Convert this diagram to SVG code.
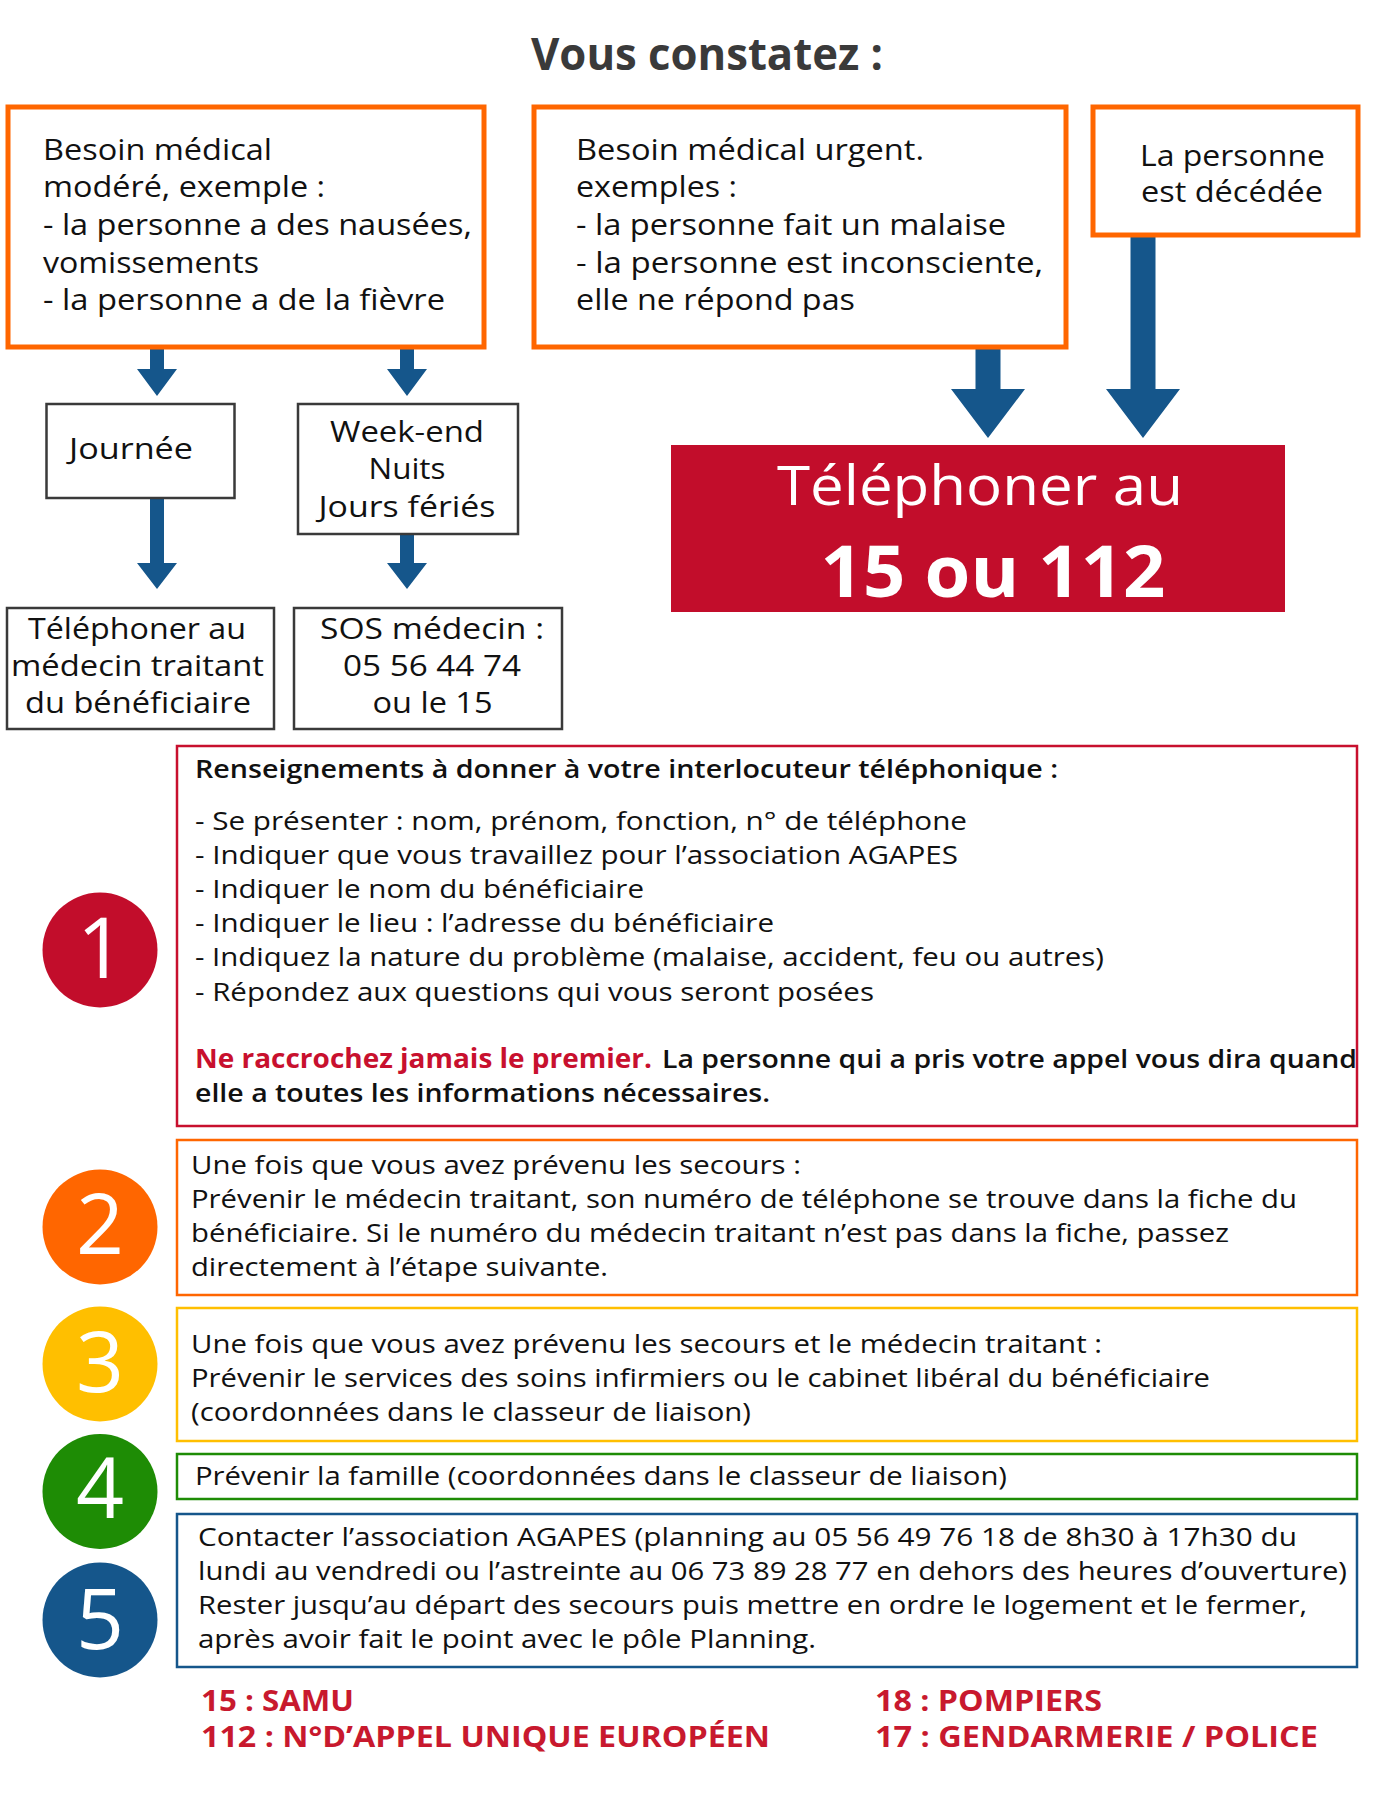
<svg xmlns="http://www.w3.org/2000/svg" width="1377" height="1802" viewBox="0 0 1377 1802">
<style>
text{font-family:"Open Sans","Noto Sans","Liberation Sans",sans-serif;fill:#111}
.t{font-size:29px}
.b{font-size:26px}
.ttl{font-size:44px;font-weight:700;fill:#3a3a3a}
.obox{fill:#fff;stroke:#FF6600;stroke-width:5}
.gbox{fill:#fff;stroke:#3a3a3a;stroke-width:2.5}
.sbox{fill:none;stroke-width:2.5}
.arr{fill:#15568B}
.num{font-size:84px;fill:#fff;text-anchor:middle}
.foot{font-size:29px;font-weight:700;fill:#C8192E}
.c{text-anchor:middle}
.w{fill:#fff}
</style>
<rect width="1377" height="1802" fill="#fff"/>
<text class="ttl" x="531" y="70" textLength="352" lengthAdjust="spacingAndGlyphs">Vous constatez :</text>

<g id="connectors">
  <path class="arr" d="M150 349H164V369H177L157 396L137 369H150Z"/>
  <path class="arr" d="M400 349H414V369H427L407 396L387 369H400Z"/>
  <path class="arr" d="M150 498H164V563H177L157 589L137 563H150Z"/>
  <path class="arr" d="M400 534H414V563H427L407 589L387 563H400Z"/>
  <path class="arr" d="M975.5 349H1000.5V389H1025L988 438L951 389H975.5Z"/>
  <path class="arr" d="M1130.5 237H1155.5V389H1180L1143 438L1106 389H1130.5Z"/>
</g>

<g id="box-modere">
  <rect class="obox" x="8" y="107" width="476" height="240"/>
  <text class="t" x="43" y="160" textLength="229" lengthAdjust="spacingAndGlyphs">Besoin médical</text>
  <text class="t" x="43" y="197" textLength="282" lengthAdjust="spacingAndGlyphs">modéré, exemple :</text>
  <text class="t" x="43" y="235" textLength="429" lengthAdjust="spacingAndGlyphs">- la personne a des nausées,</text>
  <text class="t" x="43" y="273" textLength="216" lengthAdjust="spacingAndGlyphs">vomissements</text>
  <text class="t" x="43" y="310" textLength="402" lengthAdjust="spacingAndGlyphs">- la personne a de la fièvre</text>
</g>

<g id="box-urgent">
  <rect class="obox" x="534" y="107" width="532" height="240"/>
  <text class="t" x="576" y="160" textLength="348" lengthAdjust="spacingAndGlyphs">Besoin médical urgent.</text>
  <text class="t" x="576" y="197" textLength="161" lengthAdjust="spacingAndGlyphs">exemples :</text>
  <text class="t" x="576" y="235" textLength="430" lengthAdjust="spacingAndGlyphs">- la personne fait un malaise</text>
  <text class="t" x="576" y="273" textLength="467" lengthAdjust="spacingAndGlyphs">- la personne est inconsciente,</text>
  <text class="t" x="576" y="310" textLength="279" lengthAdjust="spacingAndGlyphs">elle ne répond pas</text>
</g>

<g id="box-decede">
  <rect class="obox" x="1093" y="107" width="265" height="128"/>
  <text class="t" x="1140" y="166" textLength="185" lengthAdjust="spacingAndGlyphs">La personne</text>
  <text class="t" x="1141" y="202" textLength="182" lengthAdjust="spacingAndGlyphs">est décédée</text>
</g>

<g id="box-journee">
  <rect class="gbox" x="46.5" y="404" width="188" height="94"/>
  <text class="t" x="69" y="459" textLength="124" lengthAdjust="spacingAndGlyphs">Journée</text>
</g>

<g id="box-weekend">
  <rect class="gbox" x="298" y="404" width="220" height="130"/>
  <text class="t c" x="407" y="442" textLength="154" lengthAdjust="spacingAndGlyphs">Week-end</text>
  <text class="t c" x="407" y="479" textLength="77" lengthAdjust="spacingAndGlyphs">Nuits</text>
  <text class="t c" x="407" y="517" textLength="177" lengthAdjust="spacingAndGlyphs">Jours fériés</text>
</g>

<g id="box-medecin">
  <rect class="gbox" x="7" y="608" width="267" height="121"/>
  <text class="t c" x="137" y="639" textLength="218" lengthAdjust="spacingAndGlyphs">Téléphoner au</text>
  <text class="t c" x="137.5" y="676" textLength="253" lengthAdjust="spacingAndGlyphs">médecin traitant</text>
  <text class="t c" x="138" y="713" textLength="226" lengthAdjust="spacingAndGlyphs">du bénéficiaire</text>
</g>

<g id="box-sos">
  <rect class="gbox" x="294" y="608" width="268" height="121"/>
  <text class="t c" x="432" y="639" textLength="224" lengthAdjust="spacingAndGlyphs">SOS médecin :</text>
  <text class="t c" x="432" y="676" textLength="178" lengthAdjust="spacingAndGlyphs">05 56 44 74</text>
  <text class="t c" x="432.5" y="713" textLength="120" lengthAdjust="spacingAndGlyphs">ou le 15</text>
</g>

<g id="box-telephoner">
  <rect x="671" y="445" width="614" height="167" fill="#C20D2B"/>
  <text class="c w" x="980" y="505" font-size="54" textLength="406" lengthAdjust="spacingAndGlyphs">Téléphoner au</text>
  <text class="c w" x="993" y="597" font-size="72" font-weight="700" textLength="345" lengthAdjust="spacingAndGlyphs">15 ou 112</text>
</g>

<g id="step1">
  <circle cx="100" cy="950" r="57.5" fill="#C20D2B"/>
  <text class="num" x="101" y="978">1</text>
  <rect class="sbox" x="177" y="746" width="1180" height="380" stroke="#C8102E"/>
  <text x="195" y="778" font-size="25" font-weight="600" textLength="863" lengthAdjust="spacingAndGlyphs">Renseignements à donner à votre interlocuteur téléphonique :</text>
  <text class="b" x="195" y="830" textLength="772" lengthAdjust="spacingAndGlyphs">- Se présenter : nom, prénom, fonction, n° de téléphone</text>
  <text class="b" x="195" y="864" textLength="763" lengthAdjust="spacingAndGlyphs">- Indiquer que vous travaillez pour l’association AGAPES</text>
  <text class="b" x="195" y="898" textLength="449" lengthAdjust="spacingAndGlyphs">- Indiquer le nom du bénéficiaire</text>
  <text class="b" x="195" y="932" textLength="579" lengthAdjust="spacingAndGlyphs">- Indiquer le lieu : l’adresse du bénéficiaire</text>
  <text class="b" x="195" y="966" textLength="909" lengthAdjust="spacingAndGlyphs">- Indiquez la nature du problème (malaise, accident, feu ou autres)</text>
  <text class="b" x="195" y="1001" textLength="679" lengthAdjust="spacingAndGlyphs">- Répondez aux questions qui vous seront posées</text>
  <text x="195" y="1068" font-size="26" font-weight="700" style="fill:#C8102E" textLength="457" lengthAdjust="spacingAndGlyphs">Ne raccrochez jamais le premier.</text>
  <text x="662" y="1068" font-size="26" font-weight="600" textLength="695" lengthAdjust="spacingAndGlyphs">La personne qui a pris votre appel vous dira quand</text>
  <text x="195" y="1102" font-size="26" font-weight="600" textLength="575" lengthAdjust="spacingAndGlyphs">elle a toutes les informations nécessaires.</text>
</g>

<g id="step2">
  <circle cx="100" cy="1227" r="57.5" fill="#FF6600"/>
  <text class="num" x="100" y="1254">2</text>
  <rect class="sbox" x="177" y="1140" width="1180" height="155" stroke="#FF6600"/>
  <text class="b" x="191" y="1174" textLength="610" lengthAdjust="spacingAndGlyphs">Une fois que vous avez prévenu les secours :</text>
  <text class="b" x="191" y="1208" textLength="1106" lengthAdjust="spacingAndGlyphs">Prévenir le médecin traitant, son numéro de téléphone se trouve dans la fiche du</text>
  <text class="b" x="191" y="1242" textLength="1038" lengthAdjust="spacingAndGlyphs">bénéficiaire. Si le numéro du médecin traitant n’est pas dans la fiche, passez</text>
  <text class="b" x="191" y="1276" textLength="417" lengthAdjust="spacingAndGlyphs">directement à l’étape suivante.</text>
</g>

<g id="step3">
  <circle cx="100" cy="1364" r="57.5" fill="#FFBF00"/>
  <text class="num" x="100" y="1392">3</text>
  <rect class="sbox" x="177" y="1308" width="1180" height="133" stroke="#FFBF00"/>
  <text class="b" x="191" y="1353" textLength="911" lengthAdjust="spacingAndGlyphs">Une fois que vous avez prévenu les secours et le médecin traitant :</text>
  <text class="b" x="191" y="1387" textLength="1019" lengthAdjust="spacingAndGlyphs">Prévenir le services des soins infirmiers ou le cabinet libéral du bénéficiaire</text>
  <text class="b" x="191" y="1421" textLength="560" lengthAdjust="spacingAndGlyphs">(coordonnées dans le classeur de liaison)</text>
</g>

<g id="step4">
  <circle cx="100" cy="1491.5" r="57.5" fill="#1E8C05"/>
  <text class="num" x="100" y="1518">4</text>
  <rect class="sbox" x="177" y="1454" width="1180" height="45" stroke="#1E8C05"/>
  <text class="b" x="195" y="1485" textLength="812" lengthAdjust="spacingAndGlyphs">Prévenir la famille (coordonnées dans le classeur de liaison)</text>
</g>

<g id="step5">
  <circle cx="100" cy="1620" r="57.5" fill="#15568B"/>
  <text class="num" x="100" y="1649">5</text>
  <rect class="sbox" x="177" y="1514" width="1180" height="153" stroke="#15568B"/>
  <text class="b" x="198" y="1546" textLength="1099" lengthAdjust="spacingAndGlyphs">Contacter l’association AGAPES (planning au 05 56 49 76 18 de 8h30 à 17h30 du</text>
  <text class="b" x="198" y="1580" textLength="1149" lengthAdjust="spacingAndGlyphs">lundi au vendredi ou l’astreinte au 06 73 89 28 77 en dehors des heures d’ouverture)</text>
  <text class="b" x="198" y="1614" textLength="1109" lengthAdjust="spacingAndGlyphs">Rester jusqu’au départ des secours puis mettre en ordre le logement et le fermer,</text>
  <text class="b" x="198" y="1648" textLength="618" lengthAdjust="spacingAndGlyphs">après avoir fait le point avec le pôle Planning.</text>
</g>

<g id="footer">
  <text class="foot" x="201" y="1711" textLength="153" lengthAdjust="spacingAndGlyphs">15 : SAMU</text>
  <text class="foot" x="201" y="1747" textLength="569" lengthAdjust="spacingAndGlyphs">112 : N°D’APPEL UNIQUE EUROPÉEN</text>
  <text class="foot" x="875" y="1711" textLength="227" lengthAdjust="spacingAndGlyphs">18 : POMPIERS</text>
  <text class="foot" x="875" y="1747" textLength="443" lengthAdjust="spacingAndGlyphs">17 : GENDARMERIE / POLICE</text>
</g>
</svg>
